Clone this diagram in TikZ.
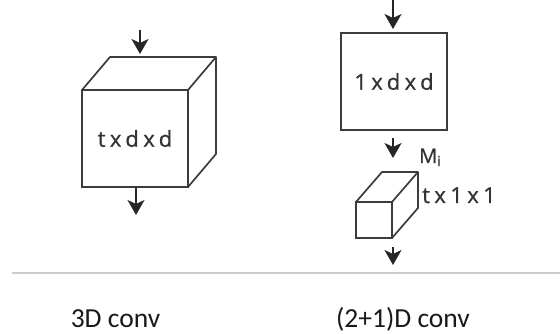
\documentclass[tikz,border=0pt]{standalone}
\usepackage{fontspec}
\setmainfont{Carlito}
\newfontfamily\dimfont[LetterSpace=20, FakeBold=0.8]{Open Sans}
\newfontfamily\labelfont[FakeBold=0.8]{Open Sans}
\usetikzlibrary{arrows.meta, positioning}
\definecolor{edgegray}{HTML}{3C3C3C}
\definecolor{rulegray}{HTML}{CCCCCC}

\begin{document}
\begin{tikzpicture}[x=1pt, y=-1pt,
		face/.style={rectangle, draw=edgegray, line width=1.7pt, inner sep=0pt, outer sep=0pt,
			text=black!80, font=\dimfont\fontsize{22}{24}\selectfont},
		edge/.style={draw=edgegray, line width=1.7pt, line join=round},
		flow/.style={-{Stealth[length=15pt, width=17pt, inset=4pt]}, line width=1.6pt, draw=black!85},
		dimtext/.style={inner sep=0pt, anchor=base west, text=black!80, font=\dimfont\fontsize{22}{24}\selectfont},
		caption/.style={inner sep=0pt, anchor=base, text=black!90, font=\fontsize{27.5}{30}\selectfont},
		]
		\useasboundingbox (0,0) rectangle (560,334);

		% 3D conv: one full cube
		\node[face, minimum width=106pt, minimum height=97pt] (front3d) at (135,138.5) {txdxd};
		\draw[edge] (front3d.north west) -- ++(28,-33) -- ++(106,0) -- ++(0,97) -- (front3d.south east);
		\draw[edge] (front3d.north east) -- ++(28,-33);

		\coordinate (in3d) at (140,30);
		\coordinate (top3d) at (140,54);
		\coordinate (out3d) at (136,215);
		\draw[flow] (in3d) -- (top3d);
		\draw[flow] (front3d.south -| out3d) -- (out3d);

		% (2+1)D conv: spatial square, then temporal cuboid
		\node[face, minimum width=106pt, minimum height=97pt] (spatial) at (394,81.5) {1xdxd};
		\node[face, minimum width=36pt, minimum height=36pt] (temporal) at (374,220) {};
		\draw[edge] (temporal.north west) -- ++(26,-30) -- ++(36,0) -- ++(0,36) -- (temporal.south east);
		\draw[edge] (temporal.north east) -- ++(26,-30);

		\node[inner sep=0pt, anchor=base west, text=black!80, font=\labelfont\fontsize{20}{22}\selectfont]
			(mi) at (419,163) {M\textsubscript{i}};
		\node[dimtext] (tdim) at (422,203) {tx1x1};

		\coordinate (in21) at (393,0);
		\coordinate (mid21) at (393,158);
		\coordinate (pre21) at (393,247);
		\coordinate (out21) at (393,265);
		\draw[flow, shorten >=4pt] (in21) -- (spatial.north -| in21);
		\draw[flow, shorten <=8pt] (spatial.south -| mid21) -- (mid21);
		\draw[flow] (pre21) -- (out21);

		% divider and captions
		\coordinate (ruleL) at (12,273);
		\coordinate (ruleR) at (560,273);
		\draw[rulegray, line width=1.5pt] (ruleL) -- (ruleR);

		\node[caption] (cap3d) at (115.5,327) {3D conv};
		\node[caption] (cap21) at (403,327) {(2+1)D conv};
	\end{tikzpicture}
\end{document}
